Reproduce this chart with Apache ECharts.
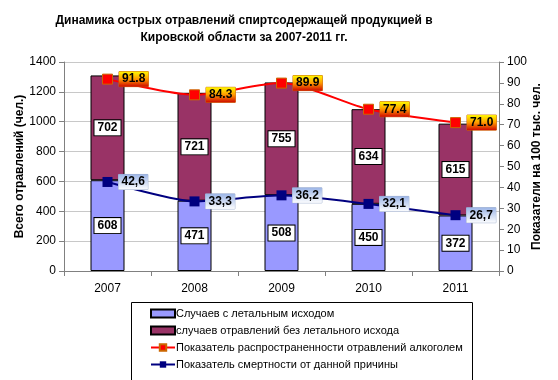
<!DOCTYPE html>
<html><head><meta charset="utf-8">
<script src="https://cdn.jsdelivr.net/npm/echarts@6/dist/echarts.min.js"></script>
<style>html,body{margin:0;padding:0;background:#fff}#c{width:558px;height:380px}</style>
</head><body><div id="c"></div>
<script>
const years = ['2007','2008','2009','2010','2011'];
const lethal = [608, 471, 508, 450, 372];
const nonLethal = [702, 721, 755, 634, 615];
const prevalence = [91.8, 84.3, 89.9, 77.4, 71.0];
const mortality = [42.6, 33.3, 36.2, 32.1, 26.7];
const prevalenceLabels = ['91.8','84.3','89.9','77.4','71.0'];
const mortalityLabels = ['42,6','33,3','36,2','32,1','26,7'];
const names = ['Случаев с летальным исходом','случаев отравлений без летального исхода','Показатель распространенности отравлений алкоголем','Показатель смертности от данной причины'];

const F = '"Liberation Sans", Arial, sans-serif';
const chart = echarts.init(document.getElementById('c'), null, {renderer:'canvas'});
const barLabel = {show:true, position:'inside', color:'#000', fontWeight:'bold', fontSize:12, fontFamily:F,
  backgroundColor:'#fff', borderColor:'#000', borderWidth:1, padding:[2,3,1,3]};
chart.setOption({
  animation:false,
  title:{text:'Динамика острых отравлений спиртсодержащей продукцией в\nКировской области за 2007-2011 гг.', left:239, textAlign:'center', top:7,
    textStyle:{fontFamily:F, fontSize:12, fontWeight:'bold', color:'#000', lineHeight:17}},
  graphic:[{type:'rect', shape:{x:131.5, y:302.5, width:341, height:90}, style:{fill:'none', stroke:'#000', lineWidth:1}, z:-1}],
  legend:{orient:'vertical', left:145, top:303, height:120, itemWidth:24, itemHeight:8, itemGap:6,
    textStyle:{fontFamily:F, fontSize:11, color:'#000', padding:[0,0,0,-4]},
    data:[{name:names[0], icon:'rect'},{name:names[1], icon:'rect'},{name:names[2]},{name:names[3]}]},
  grid:{left:64, right:59, top:62, bottom:109},
  xAxis:{type:'category', data:years, axisLine:{lineStyle:{color:'#808080'}},
    axisTick:{show:true, lineStyle:{color:'#808080'}}, axisLabel:{color:'#000', fontFamily:F, fontSize:12, margin:12}},
  yAxis:[
    {type:'value', min:0, max:1400, interval:200, name:'Всего отравлений (чел.)', nameLocation:'middle', nameGap:38, nameMoveOverlap:false,
      nameTextStyle:{fontFamily:F, fontSize:12, fontWeight:'bold', color:'#000'},
      axisLine:{show:true, lineStyle:{color:'#808080'}}, axisTick:{show:true, lineStyle:{color:'#808080'}},
      axisLabel:{color:'#000', fontFamily:F, fontSize:12, formatter:v=>String(v)}, splitLine:{lineStyle:{color:'#c8c8c8'}}},
    {type:'value', min:0, max:100, interval:10, name:'Показатели на 100 тыс. чел.', nameLocation:'middle', nameGap:32, nameMoveOverlap:false,
      nameRotate:90, nameTextStyle:{fontFamily:F, fontSize:12, fontWeight:'bold', color:'#000'},
      axisLine:{show:true, lineStyle:{color:'#808080'}}, axisTick:{show:true, lineStyle:{color:'#808080'}},
      axisLabel:{color:'#000', fontFamily:F, fontSize:12, formatter:v=>String(v)}, splitLine:{show:false}}
  ],
  series:[
    {name:names[0], type:'bar', stack:'a', data:lethal, barWidth:34,
      itemStyle:{color:'#9999FF', borderColor:'#000', borderWidth:1}, label:barLabel},
    {name:names[1], type:'bar', stack:'a', data:nonLethal, barWidth:34,
      itemStyle:{color:'#993366', borderColor:'#000', borderWidth:1}, label:barLabel},
    {name:names[2], type:'line', yAxisIndex:1, data:prevalence, smooth:0.25, z:5,
      symbol:'rect', symbolSize:10, lineStyle:{color:'#FF0000', width:2},
      itemStyle:{color:'#FF0000', borderColor:'#CC6600', borderWidth:1},
      label:{show:true, position:'right', distance:6, fontFamily:F, fontSize:12, fontWeight:'bold', color:'#000',
        padding:[2,3,1,3], borderColor:'#CC6600', borderWidth:0.5,
        backgroundColor:{type:'linear', x:0, y:0, x2:0, y2:1, colorStops:[{offset:0, color:'#FFFF00'},{offset:0.5,color:'#FF9900'},{offset:1, color:'#CC0000'}]},
        formatter:p=>prevalenceLabels[p.dataIndex]}},
    {name:names[3], type:'line', yAxisIndex:1, data:mortality, smooth:0.2, z:5,
      symbol:'rect', symbolSize:10, lineStyle:{color:'#000080', width:2},
      itemStyle:{color:'#000080'},
      label:{show:true, position:'right', distance:6, fontFamily:F, fontSize:12, fontWeight:'bold', color:'#000',
        padding:[2,3,1,3], borderColor:'#99AACC', borderWidth:0.5,
        backgroundColor:{type:'linear', x:0, y:0, x2:0, y2:1, colorStops:[{offset:0, color:'#99B3E6'},{offset:1, color:'#FFFFFF'}]},
        formatter:p=>mortalityLabels[p.dataIndex]}}
  ]
});
</script></body></html>
